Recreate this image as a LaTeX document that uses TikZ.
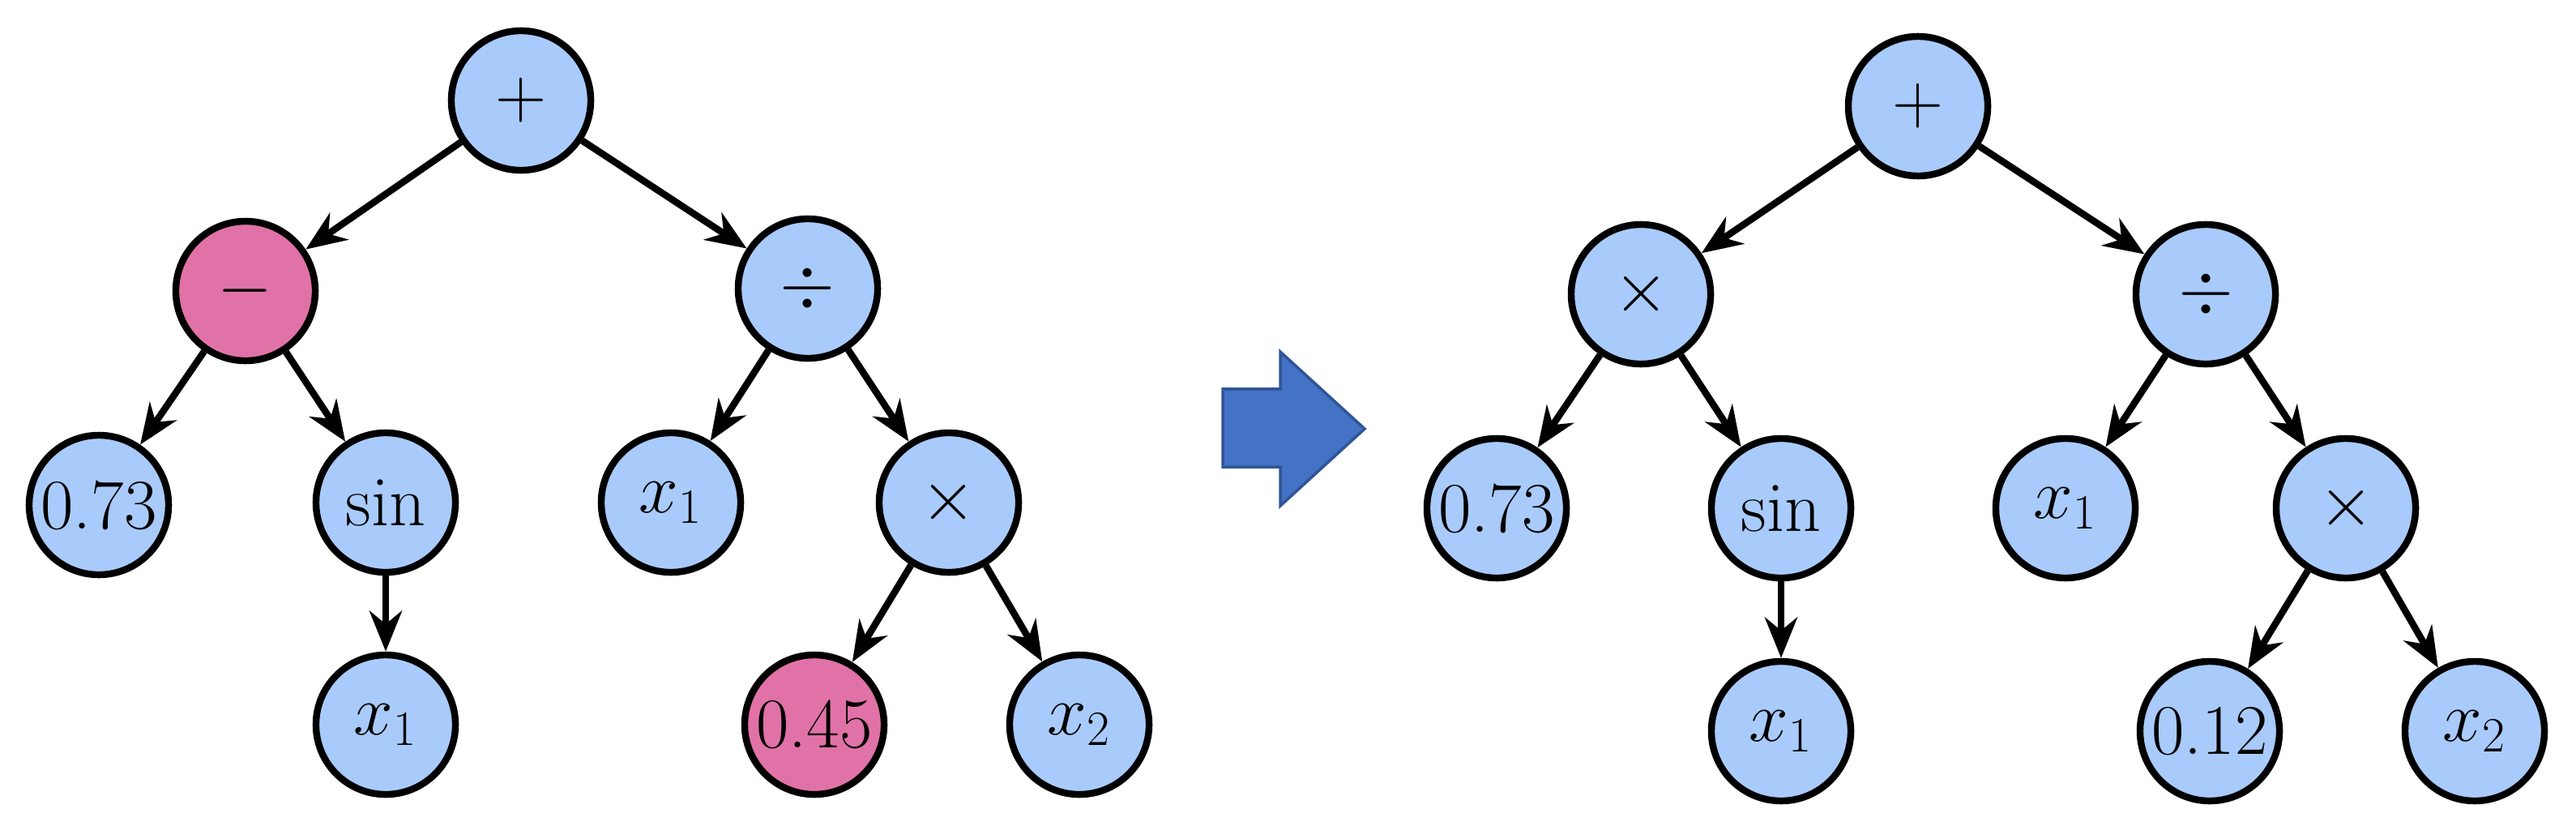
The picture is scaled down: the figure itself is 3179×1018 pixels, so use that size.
\documentclass[tikz,border=0pt]{standalone}
\usetikzlibrary{arrows.meta}
\definecolor{nblue}{HTML}{A9CBFB}
\definecolor{npink}{HTML}{E172A8}
\definecolor{abl}{HTML}{4472C4}
\definecolor{abd}{HTML}{2F5597}
\begin{document}
\begin{tikzpicture}[x=0.01cm,y=-0.01cm,
  nd/.style={circle,draw=black,line width=2.4pt,fill=nblue,minimum size=1.72cm,inner sep=0pt,font=\fontsize{25}{30}\selectfont},
  pk/.style={nd,fill=npink},
  ar/.style={line width=2.4pt,-{Stealth[length=0.5cm,width=0.4cm]}}]
\useasboundingbox (0,0) rectangle (3179,1018);
% left tree
\node[nd] (a) at (643,124) {$+$};
\node[pk] (b) at (303,359) {$-$};
\node[nd] (c) at (997,356) {$\div$};
\node[nd] (d) at (122,623) {0.73};
\node[nd] (e) at (476,620) {sin};
\node[nd] (f) at (828,620) {$x_1$};
\node[nd] (g) at (1171,620) {$\times$};
\node[nd] (h) at (476,894) {$x_1$};
\node[pk] (i) at (1005,894) {0.45};
\node[nd] (j) at (1332,894) {$x_2$};
\foreach \s/\t in {a/b,a/c,b/d,b/e,c/f,c/g,e/h,g/i,g/j} \draw[ar] (\s) -- (\t);
% arrow
\draw[fill=abl,draw=abd,line width=1pt] (1509,480) -- (1580,480) -- (1580,434) -- (1684,529) -- (1580,624) -- (1580,576) -- (1509,576) -- cycle;
% right tree
\node[nd] (A) at (2367,131) {$+$};
\node[nd] (B) at (2025,363) {$\times$};
\node[nd] (C) at (2722,363) {$\div$};
\node[nd] (D) at (1847,627) {0.73};
\node[nd] (E) at (2198,627) {sin};
\node[nd] (F) at (2549,627) {$x_1$};
\node[nd] (G) at (2895,627) {$\times$};
\node[nd] (H) at (2198,902) {$x_1$};
\node[nd] (I) at (2727,902) {0.12};
\node[nd] (J) at (3054,902) {$x_2$};
\foreach \s/\t in {A/B,A/C,B/D,B/E,C/F,C/G,E/H,G/I,G/J} \draw[ar] (\s) -- (\t);
\end{tikzpicture}
\end{document}
